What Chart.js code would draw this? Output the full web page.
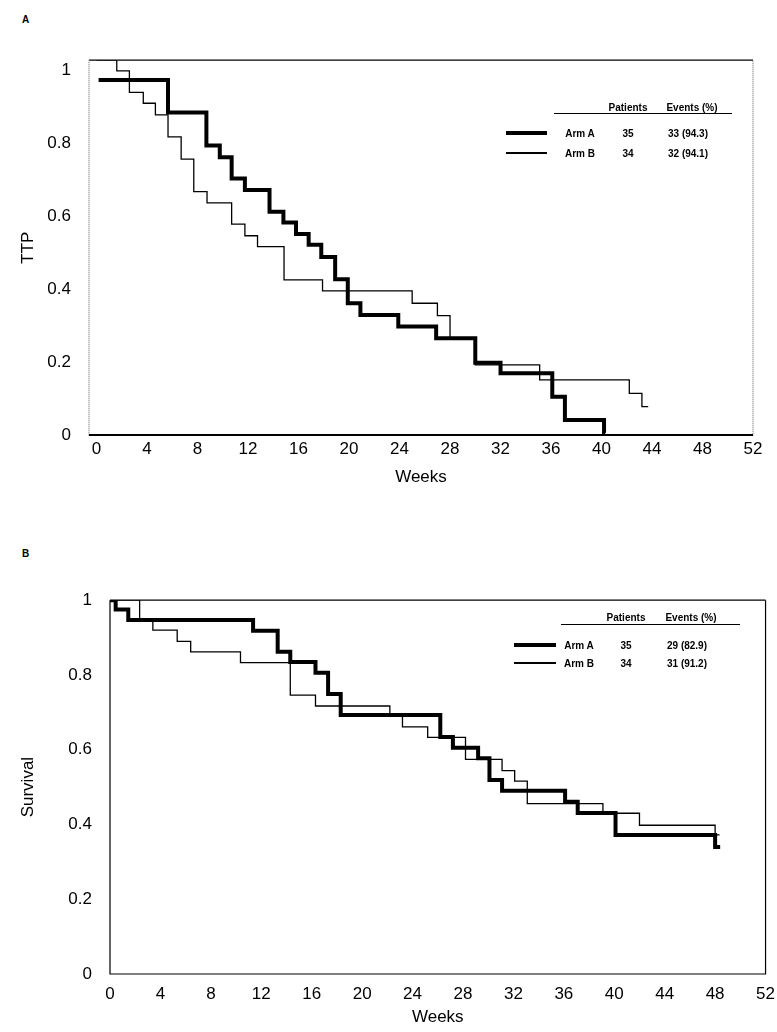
<!DOCTYPE html>
<html><head><meta charset="utf-8">
<script src="https://cdn.jsdelivr.net/npm/chart.js@4"></script>
<style>
body{margin:0;width:777px;height:1032px;background:#fff;position:relative;font-family:"Liberation Sans",Arial,sans-serif;overflow:hidden}
.c{position:absolute;left:0}
.t{position:absolute;font-size:10px;font-weight:bold;white-space:nowrap;transform:translate(-50%,-50%)}
.ln{position:absolute;background:#000}
</style></head><body>
<div class="t" style="left:22px;top:14px;transform:none">A</div>
<div class="t" style="left:22px;top:548px;transform:none">B</div>
<div class="c" style="top:40px;width:777px;height:452px"><canvas id="ca"></canvas></div>
<div class="c" style="top:580px;width:777px;height:452px"><canvas id="cb"></canvas></div>
<div id="leg"></div>
<script>
// Panel A (TTP)
const ttpArmAWeeks = [0.16,5.66,8.7,9.76,10.7,11.75,13.7,14.8,15.8,16.8,17.8,18.9,19.9,20.9,23.9,26.9,30.0,32.0,36.1,37.1,40.2,40.3];
const ttpArmA      = [0.973,0.884,0.793,0.761,0.703,0.671,0.612,0.582,0.551,0.521,0.488,0.427,0.361,0.329,0.297,0.265,0.198,0.169,0.105,0.041,0.006,0.006];
const ttpArmBWeeks = [0,1.6,2.6,3.7,4.66,5.66,6.7,7.7,8.75,10.7,11.75,12.75,14.85,17.9,25.0,27.0,28.0,30.0,35.1,42.2,43.2,43.7];
const ttpArmB      = [1.027,0.998,0.939,0.909,0.877,0.817,0.756,0.667,0.636,0.578,0.546,0.516,0.425,0.395,0.361,0.327,0.265,0.192,0.151,0.114,0.078,0.078];
// Panel B (Survival)
const osArmAWeeks = [0,0.45,1.45,11.35,13.3,14.3,16.3,17.3,18.3,26.2,27.2,29.2,30.1,31.1,36.1,37.1,40.1,48.0,48.4];
const osArmA      = [1.0,0.975,0.947,0.918,0.862,0.835,0.806,0.749,0.693,0.634,0.605,0.577,0.519,0.49,0.461,0.431,0.372,0.34,0.34];
const osArmBWeeks = [0,2.35,3.4,5.33,6.4,10.35,14.3,16.3,22.2,23.2,25.2,28.2,31.1,32.1,33.1,39.1,42.0,48.0,48.35];
const osArmB      = [1.0,0.947,0.92,0.89,0.862,0.833,0.746,0.717,0.69,0.661,0.633,0.574,0.544,0.516,0.456,0.43,0.398,0.372,0.372];
const weekTicks = [0,4,8,12,16,20,24,28,32,36,40,44,48,52];
const probTicks = [0,0.2,0.4,0.6,0.8,1];
const legA = {rows:[["Arm A","35","33 (94.3)"],["Arm B","34","32 (94.1)"]]};
const legB = {rows:[["Arm A","35","29 (82.9)"],["Arm B","34","31 (91.2)"]]};

const FONT = "'Liberation Sans', Arial, sans-serif";
function pts(xs,ys){return xs.map((x,i)=>({x,y:ys[i]}));}
const boxPlugin = {id:'box',afterDraw(ch,a,o){const c=ch.ctx,ar=ch.chartArea;c.save();c.strokeStyle='#000';c.lineWidth=1.2;
  c.beginPath();c.moveTo(ar.left,ar.top);c.lineTo(ar.right,ar.top);c.stroke();
  if(o.dotted){c.strokeStyle='#777';c.setLineDash([1,1]);}
  c.beginPath();c.moveTo(ar.left,ar.top);c.lineTo(ar.left,ar.bottom);c.lineTo(ar.right,ar.bottom);c.lineTo(ar.right,ar.top);c.stroke();
  if(o.dotted){c.setLineDash([]);c.strokeStyle='#000';c.lineWidth=2;c.beginPath();c.moveTo(ar.left,ar.bottom);c.lineTo(ar.right,ar.bottom);c.stroke();}
  c.restore();}};
function make(id,aX,aY,bX,bY,opt){
  new Chart(document.getElementById(id),{type:'line',
    data:{datasets:[
      {data:pts(aX,aY),borderColor:'#000',borderWidth:4,stepped:'before',pointRadius:0,fill:false},
      {data:pts(bX,bY),borderColor:'#000',borderWidth:1.3,stepped:'before',pointRadius:0,fill:false}]},
    options:{responsive:true,maintainAspectRatio:false,animation:false,
      layout:{padding:{top:opt.top,right:opt.right,left:14,bottom:0}},
      plugins:{legend:{display:false},tooltip:{enabled:false},box:{dotted:opt.dotted}},
      scales:{
        x:{type:'linear',min:opt.xmin,max:52,grid:{display:false},border:{display:false},
           afterBuildTicks:s=>{s.ticks=weekTicks.map(v=>({value:v}));},
           ticks:{font:{size:17,family:FONT},color:'#000',padding:opt.tp,maxRotation:0},
           title:{display:true,text:'Weeks',font:{size:17,family:FONT},color:'#000',padding:{top:opt.ttp}},
           afterFit:s=>{s.height=opt.xh;}},
        y:{type:'linear',min:0,max:opt.ymax,grid:{display:false},border:{display:false},
           afterBuildTicks:s=>{s.ticks=probTicks.map(v=>({value:v}));},
           ticks:{font:{size:17,family:FONT},color:'#000',padding:10,callback:v=>String(v)},
           title:{display:true,text:opt.ytitle,font:{size:17,family:FONT},color:'#000',padding:{bottom:4}},
           afterFit:s=>{s.width=opt.yw-14;}}}},
    plugins:[boxPlugin]});
}
make('ca',ttpArmAWeeks,ttpArmA,ttpArmBWeeks,ttpArmB,{top:20,right:24,xh:57,yw:89,xmin:-0.6,ymax:1.027,ytitle:'TTP',dotted:true,tp:-4,ttp:0});
make('cb',osArmAWeeks,osArmA,osArmBWeeks,osArmB,{top:18,right:9,xh:58,yw:110,xmin:0,ymax:1.0,ytitle:'Survival',dotted:false,tp:2,ttp:4});

function legend(L,hy,uy,ux1,ux2,lx1,lx2,cx,ry){
  let h='';
  h+=`<div class="t" style="left:${cx[1]}px;top:${hy}px">Patients</div><div class="t" style="left:${cx[2]+4}px;top:${hy}px">Events (%)</div>`;
  h+=`<div class="ln" style="left:${ux1}px;top:${uy}px;width:${ux2-ux1}px;height:1px"></div>`;
  L.rows.forEach((r,i)=>{const y=ry[i];const w=i==0?4:1.3;
    h+=`<div class="ln" style="left:${lx1}px;top:${y-w/2}px;width:${lx2-lx1}px;height:${w}px"></div>`;
    r.forEach((t,j)=>{h+=`<div class="t" style="left:${cx[j]}px;top:${y}px">${t}</div>`;});});
  return h;
}
document.getElementById('leg').innerHTML=
  legend(legA,107,113,554,732,506,547,[580,628,688],[133,153])+
  legend(legB,617,624,561,740,514,556,[579,626,687],[645,663]);
</script></body></html>
